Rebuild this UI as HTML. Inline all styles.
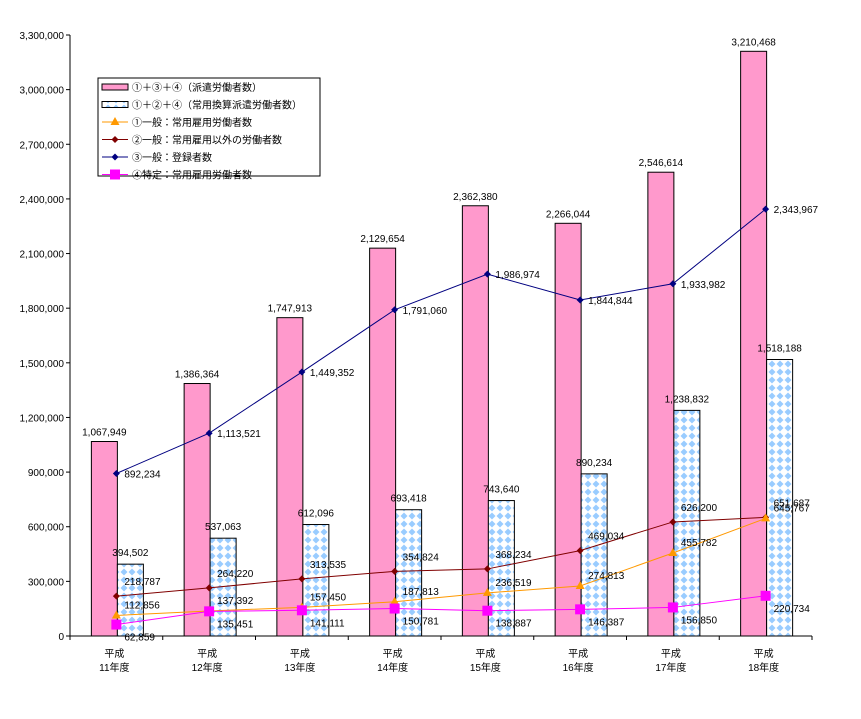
<!DOCTYPE html>
<html><head><meta charset="utf-8"><style>
body{margin:0;background:#fff;}
text{font-family:"Liberation Sans","Noto Sans CJK JP",sans-serif;font-size:10px;fill:#000;}
</style></head><body>
<svg id="chart" width="861" height="714" xmlns="http://www.w3.org/2000/svg">
<defs>
<pattern id="dots" width="8" height="8" patternUnits="userSpaceOnUse">
<rect width="8" height="8" fill="#fff"/>
<path d="M4 0.5 L7.5 4 L4 7.5 L0.5 4Z" fill="#99ccff"/>
</pattern>
</defs>
<g id="axes"></g><g id="bars"></g><g id="lines"></g><g id="labels"></g>
<g id="legend">
<rect x="98" y="78" width="222" height="98" fill="#fff" stroke="#000" stroke-width="1"/>
</g>
</svg>
<script>
const categories=["平成\n11年度","平成\n12年度","平成\n13年度","平成\n14年度","平成\n15年度","平成\n16年度","平成\n17年度","平成\n18年度"];
const totalA=[1067949,1386364,1747913,2129654,2362380,2266044,2546614,3210468];
const totalB=[394502,537063,612096,693418,743640,890234,1238832,1518188];
const s1=[112856,137392,157450,187813,236519,274813,455782,645767];
const s2=[218787,264220,313535,354824,368234,469034,626200,651687];
const s3=[892234,1113521,1449352,1791060,1986974,1844844,1933982,2343967];
const s4=[62859,135451,141111,150781,138887,146387,156850,220734];
const yTicks=[0,300000,600000,900000,1200000,1500000,1800000,2100000,2400000,2700000,3000000,3300000];
const NS="http://www.w3.org/2000/svg";
const X0=70,X1=812,Y0=636,Y1=35,YMAX=3300000;
const gw=(X1-X0)/categories.length;
function y(v){return Y0-(v/YMAX)*(Y0-Y1);}
function cx(i){return X0+gw*(i+0.5);}
function fmt(v){return v.toLocaleString('en-US');}
function mk(tag,attrs,parent){const e=document.createElementNS(NS,tag);for(const k in attrs)e.setAttribute(k,attrs[k]);document.getElementById(parent).appendChild(e);return e;}
function txt(s,x,yy,anchor,parent){const t=mk('text',{x:x,y:yy,'text-anchor':anchor||'start'},parent);t.textContent=s;return t;}
// axes
let a=mk('line',{x1:X0,y1:Y1,x2:X0,y2:Y0,stroke:'#000'},'axes');

a=mk('line',{x1:X0,y1:Y0,x2:X1,y2:Y0,stroke:'#000'},'axes');

yTicks.forEach(v=>{
 mk('line',{x1:X0-4,y1:y(v),x2:X0,y2:y(v),stroke:'#000'},'axes');
 const t=txt(fmt(v),X0-6,y(v)+4,'end','axes');
 
 
});
for(let i=0;i<=categories.length;i++){mk('line',{x1:X0+gw*i,y1:Y0,x2:X0+gw*i,y2:Y0+4,stroke:'#000'},'axes');}
categories.forEach((c,i)=>{
 const p=c.split("\n");
 const t1=txt(p[0],cx(i)-2,657,'middle','axes');
 
 
 const t2=txt(p[1],cx(i)-2,671,'middle','axes');
 
 
});
// bars
const bw=26;
categories.forEach((c,i)=>{
 const xa=cx(i)-bw+1;
 const r1=mk('rect',{x:xa,y:y(totalA[i]),width:bw,height:Y0-y(totalA[i]),fill:'#ff99cc',stroke:'#000','stroke-width':1},'bars');
 
 
 const r2=mk('rect',{x:xa+bw,y:y(totalB[i]),width:bw,height:Y0-y(totalB[i]),fill:'url(#dots)',stroke:'#000','stroke-width':1},'bars');
 
 
 txt(fmt(totalA[i]),xa+bw/2,y(totalA[i])-6,'middle','labels');
 txt(fmt(totalB[i]),xa+bw*1.5,y(totalB[i])-8,'middle','labels');
});
const series=[
 {d:s2,c:'#800000',m:'diamond',name:'line-general-nonregular',dx:8,dy:-11},
 {d:s3,c:'#000080',m:'diamond',name:'line-general-registered',dx:8,dy:4},
 {d:s1,c:'#ff9900',m:'tri',name:'line-general-regular',dx:8,dy:-7},
 {d:s4,c:'#ff00ff',m:'sq',name:'line-specific-regular',dx:8,dy:16}
];
series.forEach(s=>{
 const pts=s.d.map((v,i)=>cx(i)+','+y(v)).join(' ');
 const pl=mk('polyline',{points:pts,fill:'none',stroke:s.c,'stroke-width':1},'lines');
 
 
 s.d.forEach((v,i)=>{
  const X=cx(i),Y=y(v);let m;
  if(s.m==='diamond')m=mk('path',{d:`M${X} ${Y-3.5}L${X+3.5} ${Y}L${X} ${Y+3.5}L${X-3.5} ${Y}Z`,fill:s.c},'lines');
  else if(s.m==='tri')m=mk('path',{d:`M${X} ${Y-5}L${X+4.5} ${Y+3}L${X-4.5} ${Y+3}Z`,fill:s.c},'lines');
  else m=mk('rect',{x:X-5,y:Y-5,width:10,height:10,fill:s.c},'lines');
  
  
  txt(fmt(v),X+s.dx,Y+s.dy,'start','labels');
 });
});
// legend
const leg=[
 {t:'①＋③＋④（派遣労働者数）',k:'barA'},
 {t:'①＋②＋④（常用換算派遣労働者数）',k:'barB'},
 {t:'①一般：常用雇用労働者数',k:'tri',c:'#ff9900'},
 {t:'②一般：常用雇用以外の労働者数',k:'diamond',c:'#800000'},
 {t:'③一般：登録者数',k:'diamond',c:'#000080'},
 {t:'④特定：常用雇用労働者数',k:'sq',c:'#ff00ff'}
];
leg.forEach((l,i)=>{
 const Y=87+i*17.5;
 if(l.k==='barA')mk('rect',{x:102,y:Y-3,width:26,height:6,fill:'#ff99cc',stroke:'#000'},'legend');
 else if(l.k==='barB')mk('rect',{x:102,y:Y-3,width:26,height:6,fill:'url(#dots)',stroke:'#000'},'legend');
 else{
  mk('line',{x1:102,y1:Y,x2:128,y2:Y,stroke:l.c},'legend');
  const X=115;
  if(l.k==='diamond')mk('path',{d:`M${X} ${Y-3.5}L${X+3.5} ${Y}L${X} ${Y+3.5}L${X-3.5} ${Y}Z`,fill:l.c},'legend');
  else if(l.k==='tri')mk('path',{d:`M${X} ${Y-5}L${X+4.5} ${Y+3}L${X-4.5} ${Y+3}Z`,fill:l.c},'legend');
  else mk('rect',{x:X-5,y:Y-5,width:10,height:10,fill:l.c},'legend');
 }
 const t=txt(l.t,132,Y+4,'start','legend');
 
 
});
</script>
</body></html>
